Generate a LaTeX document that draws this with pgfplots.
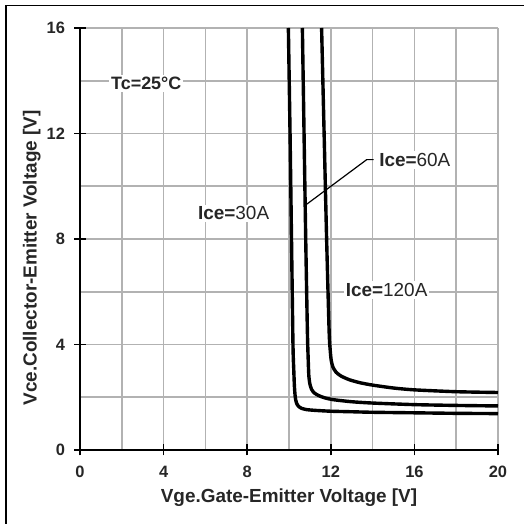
\documentclass[border=0pt]{standalone}
\usepackage{fontspec}
\setmainfont{Liberation Sans}
\usepackage{pgfplots}
\pgfplotsset{compat=1.18}
\begin{document}
\begin{tikzpicture}
\path[use as bounding box] (0,0) rectangle (524bp,524bp);
\draw[line width=1.6bp, black] (6bp,0) -- (6bp,518.5bp) -- (524bp,518.5bp);
\begin{axis}[
  at={(80bp,74bp)}, anchor=south west,
  scale only axis, width=418bp, height=422bp,
  xmin=0, xmax=20, ymin=0, ymax=16,
  xtick={0,4,...,20}, ytick={0,4,...,16},
  minor xtick={2,6,...,18}, minor ytick={2,6,...,14},
  grid=both,
  major grid style={black!30, line width=1.6bp},
  minor grid style={black!30, line width=1.6bp},
  axis x line*=bottom, axis y line*=left,
  axis line style={black, line width=2bp, -},
  tick align=center, major tick length=11bp, minor tick length=0pt,
  tick style={black, line width=1.5bp},
  /pgf/number format/assume math mode=true,
  ticklabel style={font=\bfseries\fontsize{16.5}{16.5}\selectfont, text=black!85},
  xticklabel style={yshift=-7bp},
  yticklabel style={xshift=-6bp},
  xlabel={Vge.Gate-Emitter Voltage [V]},
  ylabel={Vce.Collector-Emitter Voltage [V]},
  label style={font=\bfseries\fontsize{19}{19}\selectfont, text=black!85},
  xlabel style={at={(axis description cs:0.5,-0.1137)}, anchor=center},
  ylabel style={at={(axis description cs:-0.1156,0.455)}, anchor=center},
  clip=true,
]
% Ice=30A
\addplot[black, line width=3.4bp, smooth, tension=0.4] coordinates {
 (9.97,16) (10.05,12) (10.12,8) (10.19,4) (10.23,3) (10.26,2.4) (10.3,2.0)
 (10.36,1.78) (10.45,1.66) (10.6,1.58) (10.85,1.53) (11.3,1.5) (12,1.47)
 (13,1.45) (14,1.43) (16,1.41) (18,1.39) (20,1.38)};
% Ice=60A
\addplot[black, line width=3.4bp, smooth, tension=0.4] coordinates {
 (10.64,16) (10.72,12) (10.8,8) (10.88,4.5) (10.92,3.4) (10.95,2.8) (11.0,2.5)
 (11.08,2.3) (11.2,2.17) (11.4,2.07) (11.7,1.98) (12.1,1.91) (13,1.83)
 (14,1.78) (16,1.72) (18,1.69) (20,1.67)};
% Ice=120A
\addplot[black, line width=3.4bp, smooth, tension=0.4] coordinates {
 (11.56,16) (11.68,12) (11.8,8) (11.92,4.5) (11.97,3.8) (12.02,3.4) (12.1,3.15)
 (12.25,2.95) (12.5,2.8) (12.9,2.66) (13.4,2.55) (14,2.46) (15,2.35)
 (16,2.28) (18,2.21) (20,2.18)};
\draw[black, line width=1.2bp] (axis cs:10.85,9.32) -- (axis cs:13.72,11.01) -- (axis cs:14.05,11.01);
\node[fill=white, inner sep=2bp, text=black!85] at (axis cs:3.17,13.89)
  {\bfseries\fontsize{18}{18}\selectfont Tc=25°C};
\node[fill=white, inner sep=2bp, text=black!85] at (axis cs:7.35,8.97)
  {\fontsize{19}{19}\selectfont\textbf{Ice=}30A};
\node[fill=white, inner sep=2bp, text=black!85] at (axis cs:16.02,11.0)
  {\fontsize{19}{19}\selectfont\textbf{Ice=}60A};
\node[fill=white, inner sep=2bp, text=black!85] at (axis cs:14.67,6.06)
  {\fontsize{19}{19}\selectfont\textbf{Ice=}120A};
\end{axis}
\end{tikzpicture}
\end{document}
